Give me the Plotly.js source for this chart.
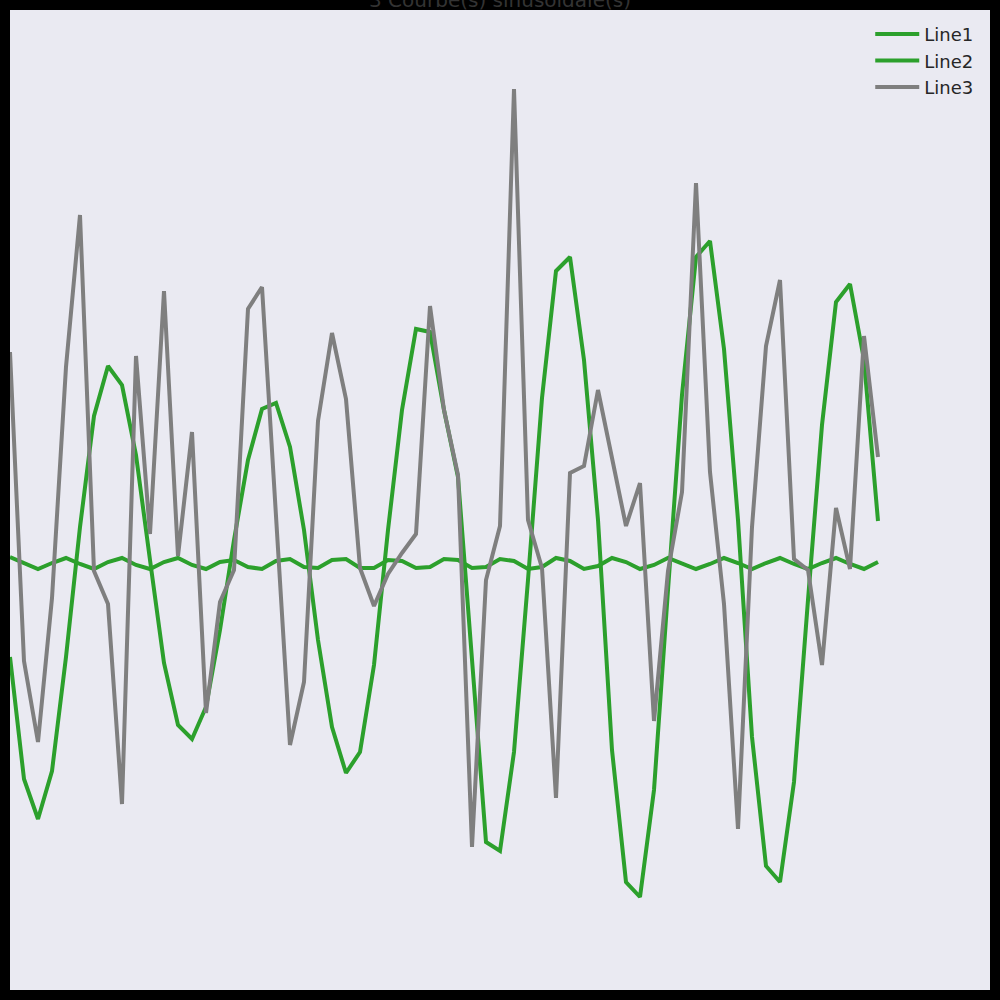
<!DOCTYPE html>
<html>
<head>
<meta charset="utf-8">
<script src="https://cdn.plot.ly/plotly-3.0.1.min.js"></script>
<style>html,body{margin:0;padding:0;background:#000;}#chart{width:1000px;height:1000px;}</style>
</head>
<body>
<div id="chart"></div>
<script>
// Sample index (x) shared by the three curves
const xValues = Array.from({length: 63}, (_, i) => i);

const line1 = [
  -0.94, -2.16, -2.56, -2.08, -0.94, 0.36, 1.47, 1.97, 1.78, 1.08,
   0.03, -1.00, -1.62, -1.76, -1.44, -0.67, 0.23, 1.03, 1.54, 1.60,
   1.16, 0.33, -0.77, -1.64, -2.10, -1.89, -1.02, 0.33, 1.53, 2.34,
   2.31, 1.53, 0.86, -1.00, -2.79, -2.88, -1.89, -0.17, 1.65, 2.92,
   3.06, 2.03, 0.43, -1.87, -3.19, -3.34, -2.27, -0.27, 1.68, 3.06,
   3.22, 2.14, 0.43, -1.74, -3.03, -3.19, -2.19, -0.37, 1.38, 2.61,
   2.79, 2.03, 0.42
];
const line2 = [
   0.06, 0.00, -0.06, 0.00, 0.05, -0.01, -0.06, 0.01, 0.05, -0.02,
  -0.06, 0.01, 0.05, -0.02, -0.06, 0.01, 0.03, -0.04, -0.06, 0.02,
   0.04, -0.04, -0.05, 0.03, 0.04, -0.05, -0.05, 0.03, 0.02, -0.05,
  -0.04, 0.04, 0.03, -0.05, -0.04, 0.04, 0.02, -0.06, -0.04, 0.05,
   0.02, -0.06, -0.03, 0.05, 0.01, -0.06, -0.02, 0.05, 0.00, -0.06,
  -0.01, 0.05, 0.00, -0.06, 0.00, 0.05, -0.01, -0.06, 0.00, 0.05,
  -0.01, -0.06, 0.01
];
const line3 = [
   2.11, -0.98, -1.79, -0.35, 1.96, 3.48, -0.08, -0.41, -2.41, 2.07,
   0.29, 2.72, 0.07, 1.31, -1.50, -0.39, -0.07, 2.54, 2.76, 0.43,
  -1.82, -1.19, 1.42, 2.30, 1.64, -0.05, -0.43, -0.11, 0.10, 0.29,
   2.57, 1.53, 0.88, -2.84, -0.17, 0.37, 4.74, 0.43, -0.05, -2.35,
   0.90, 0.97, 1.73, 1.05, 0.37, 0.80, -1.58, -0.08, 0.71, 3.80,
   0.91, -0.41, -2.66, 0.36, 2.17, 2.83, 0.04, -0.07, -1.02, 0.55,
  -0.06, 2.27, 1.06
];

const seriesNames = ['Line1', 'Line2', 'Line3'];
const seriesColors = ['#2ca02c', '#2ca02c', '#7f7f7f'];
const seriesData = [line1, line2, line3];

const traces = seriesData.map((ys, k) => ({
  type: 'scatter',
  mode: 'lines',
  x: xValues,
  y: ys,
  name: seriesNames[k],
  legendgroup: 'g' + k,
  line: {color: seriesColors[k], width: 4}
}));

const layout = {
  width: 1000,
  height: 1000,
  paper_bgcolor: '#000000',
  plot_bgcolor: '#EAEAF2',
  margin: {l: 10, r: 10, t: 10, b: 10, pad: 0},
  font: {family: 'DejaVu Sans', color: '#262626'},
  title: {
    text: '3 Courbe(s) sinusoïdale(s)',
    font: {family: 'DejaVu Sans', size: 20, color: '#333333'},
    x: 0.5, xanchor: 'center',
    yref: 'container', y: 0.993, yanchor: 'bottom'
  },
  showlegend: true,
  legend: {
    x: 0.988, xanchor: 'right', y: 0.994, yanchor: 'top',
    bgcolor: 'rgba(0,0,0,0)',
    tracegroupgap: 0,
    itemwidth: 44,
    font: {family: 'DejaVu Sans', size: 18, color: '#262626'}
  },
  xaxis: {range: [0, 70], showgrid: false, zeroline: false, showticklabels: false, ticks: '', showline: false},
  yaxis: {range: [-4.27, 5.53], showgrid: false, zeroline: false, showticklabels: false, ticks: '', showline: false}
};

Plotly.newPlot('chart', traces, layout, {displayModeBar: false, staticPlot: true});
</script>
</body>
</html>
